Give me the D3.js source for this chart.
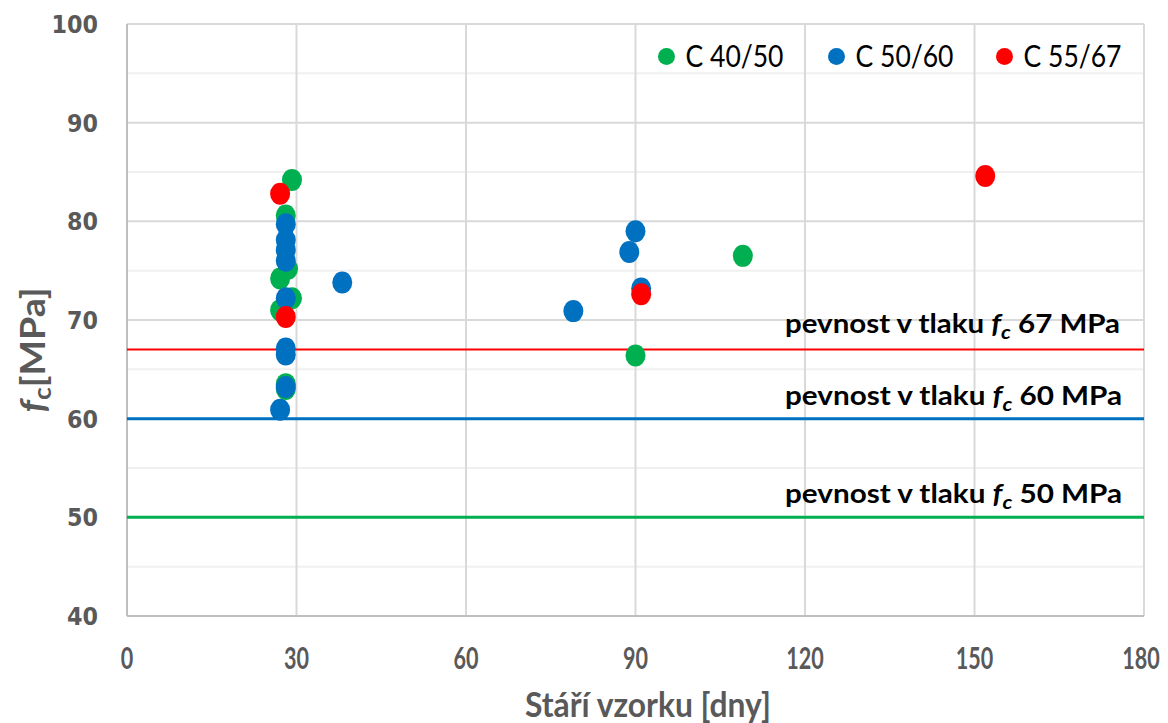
<!DOCTYPE html>
<html>
<head>
<meta charset="utf-8">
<script src="https://cdn.jsdelivr.net/npm/d3@7"></script>
<style>
  html, body { margin: 0; padding: 0; background: #fff; }
  svg { display: block; }
</style>
</head>
<body>
<svg id="chart" width="1168" height="723"></svg>
<script>
// Compressive strength of concrete samples vs. sample age
const seriesNames = ["C 40/50", "C 50/60", "C 55/67"];
const seriesColors = ["#00b050", "#0070c0", "#ff0000"];

const ageC4050 = [29.2, 28.1, 28.5, 27.1, 29.2, 27.1, 28.1, 28.1, 90.0, 109.0];
const fcC4050  = [84.2, 80.6, 75.2, 74.2, 72.2, 71.0, 63.5, 63.0, 66.4, 76.5];

const ageC5060 = [28.1, 28.1, 28.1, 28.1, 28.1, 28.1, 28.1, 28.1, 27.1, 38.1, 79.0, 88.9, 90.0, 91.0];
const fcC5060  = [79.7, 78.1, 77.1, 76.0, 72.2, 67.1, 66.5, 63.2, 60.9, 73.8, 70.9, 76.9, 79.0, 73.2];

const ageC5567 = [27.1, 28.1, 91.0, 151.9];
const fcC5567  = [82.8, 70.3, 72.6, 84.6];

// strength limits drawn as horizontal lines
const limitValues = [67, 60, 50];
const limitColors = ["#ff0000", "#0070c0", "#00b050"];
const limitWidths = [2, 3, 3];

const xTicks = [0, 30, 60, 90, 120, 150, 180];
const yTicks = [40, 50, 60, 70, 80, 90, 100];
const yMinorTicks = [45, 55, 65, 75, 85, 95];

const series = [
  { ages: ageC4050, fc: fcC4050 },
  { ages: ageC5060, fc: fcC5060 },
  { ages: ageC5567, fc: fcC5567 }
];

const svg = d3.select("#chart");
const plotLeft = 127, plotRight = 1144, plotTop = 24, plotBottom = 616;

const x = d3.scaleLinear().domain([0, 180]).range([plotLeft, plotRight]);
const y = d3.scaleLinear().domain([40, 100]).range([plotBottom, plotTop]);

const FONT = "Lato, 'Open Sans', sans-serif";
const AXIS_GREY = "#595959";

// fit a text element to a given advance width
function fitWidth(sel, w) {
  sel.attr("textLength", w).attr("lengthAdjust", "spacingAndGlyphs");
}

// gridlines
const grid = svg.append("g");
grid.selectAll("line.minor").data(yMinorTicks).join("line")
  .attr("class", "minor")
  .attr("x1", plotLeft).attr("x2", plotRight)
  .attr("y1", d => y(d)).attr("y2", d => y(d))
  .attr("stroke", "#f0f0f0").attr("stroke-width", 2);
grid.selectAll("line.majorY").data(yTicks).join("line")
  .attr("class", "majorY")
  .attr("x1", plotLeft).attr("x2", plotRight)
  .attr("y1", d => y(d)).attr("y2", d => y(d))
  .attr("stroke", "#d9d9d9").attr("stroke-width", 2);
grid.selectAll("line.majorX").data(xTicks).join("line")
  .attr("class", "majorX")
  .attr("x1", d => x(d)).attr("x2", d => x(d))
  .attr("y1", plotTop).attr("y2", plotBottom)
  .attr("stroke", "#d9d9d9").attr("stroke-width", 2);

// axis lines
svg.append("line").attr("x1", plotLeft).attr("x2", plotRight).attr("y1", plotBottom).attr("y2", plotBottom)
  .attr("stroke", "#bfbfbf").attr("stroke-width", 2);
svg.append("line").attr("x1", plotLeft).attr("x2", plotLeft).attr("y1", plotTop).attr("y2", plotBottom)
  .attr("stroke", "#bfbfbf").attr("stroke-width", 2);

// limit lines
svg.append("g").selectAll("line").data(limitValues).join("line")
  .attr("x1", plotLeft).attr("x2", plotRight)
  .attr("y1", d => y(d)).attr("y2", d => y(d))
  .attr("stroke", (d, i) => limitColors[i])
  .attr("stroke-width", (d, i) => limitWidths[i]);

// limit labels
const labelBase = [333, 405, 503];
limitValues.forEach((v, i) => {
  const t = svg.append("text")
    .attr("x", 785).attr("y", labelBase[i])
    .attr("font-family", FONT).attr("font-weight", 700)
    .attr("font-size", 26).attr("fill", "#000");
  t.append("tspan").text("pevnost v tlaku ");
  t.append("tspan").attr("font-style", "italic").text("f");
  t.append("tspan").attr("font-style", "italic").attr("font-size", 19).attr("dy", 6).text("c");
  t.append("tspan").attr("dy", -6).text(" " + v + " MPa");
  fitWidth(t, i === 0 ? 335 : 337);
});

// markers
series.forEach((s, k) => {
  svg.append("g").selectAll("ellipse").data(d3.range(s.ages.length)).join("ellipse")
    .attr("cx", i => x(s.ages[i]))
    .attr("cy", i => y(s.fc[i]))
    .attr("rx", 10).attr("ry", 11)
    .attr("fill", seriesColors[k]);
});

// y tick labels
svg.append("g").selectAll("text").data(yTicks).join("text")
  .attr("x", 98).attr("y", d => y(d)).attr("dy", "0.36em")
  .attr("text-anchor", "end")
  .attr("font-family", "'DejaVu Sans', sans-serif").attr("font-weight", 700)
  .attr("font-size", 25).attr("fill", AXIS_GREY)
  .text(d => d)
  .each(function(d) { fitWidth(d3.select(this), String(d).length * 15.5); });

// x tick labels (the last one kept inside the page edge)
svg.append("g").selectAll("text").data(xTicks).join("text")
  .attr("x", d => Math.min(x(d), 1141)).attr("y", 669)
  .attr("text-anchor", "middle")
  .attr("font-family", FONT).attr("font-weight", 700)
  .attr("font-size", 31).attr("fill", AXIS_GREY)
  .text(d => d)
  .each(function(d) { fitWidth(d3.select(this), String(d).length * 12.5); });

// x axis title
const xt = svg.append("text")
  .attr("x", 648).attr("y", 717).attr("text-anchor", "middle")
  .attr("font-family", FONT).attr("font-weight", 700)
  .attr("font-size", 34).attr("fill", AXIS_GREY)
  .text("Stáří vzorku [dny]");
fitWidth(xt, 246);

// y axis title
const yt = svg.append("text")
  .attr("transform", "translate(45,350) rotate(-90)")
  .attr("text-anchor", "middle")
  .attr("font-family", FONT).attr("font-weight", 700)
  .attr("font-size", 34).attr("fill", AXIS_GREY);
yt.append("tspan").attr("font-style", "italic").text("f");
yt.append("tspan").attr("font-size", 24).attr("dy", 6).text("c");
yt.append("tspan").attr("dy", -6).text("[MPa]");
fitWidth(yt, 125);

// legend
const legendDotX = [666.5, 836.5, 1004.5];
const legend = svg.append("g");
seriesNames.forEach((name, i) => {
  legend.append("circle")
    .attr("cx", legendDotX[i]).attr("cy", 56.5).attr("r", 8.5)
    .attr("fill", seriesColors[i]);
  const t = legend.append("text")
    .attr("x", legendDotX[i] + 19).attr("y", 67)
    .attr("font-family", FONT).attr("font-size", 30).attr("fill", "#000")
    .text(name);
  fitWidth(t, 98);
});
</script>
</body>
</html>
